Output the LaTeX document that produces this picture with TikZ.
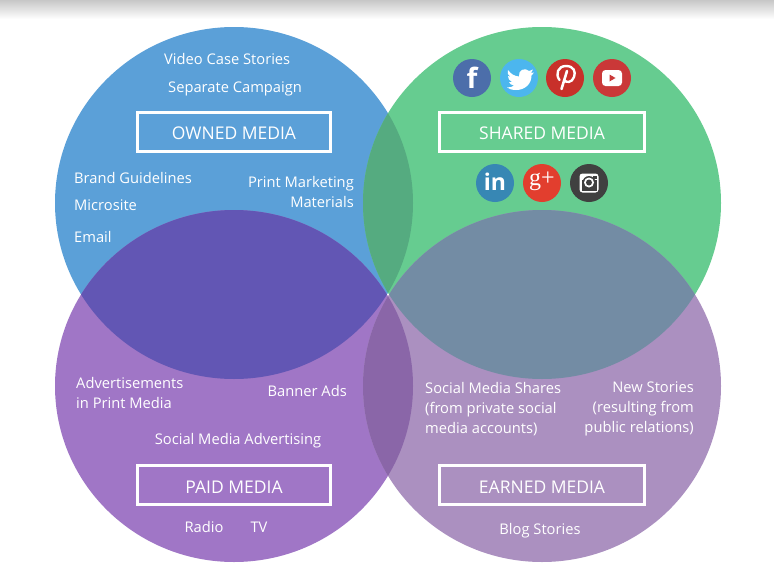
\documentclass[tikz,border=0pt]{standalone}
\usepackage{fontspec}
\setmainfont{Open Sans}
\newfontfamily\serifgl{Liberation Serif}
\newcommand{\boxtext}[1]{\rule{0pt}{16.5pt}#1}
\definecolor{cblue}{HTML}{5BA0D8}
\definecolor{cgreen}{HTML}{66CC90}
\definecolor{cpurple}{HTML}{A076C6}
\definecolor{cmauve}{HTML}{AB90C0}
\definecolor{lenstop}{HTML}{55AB80}
\definecolor{lensleft}{HTML}{6256B4}
\definecolor{lensright}{HTML}{738CA4}
\definecolor{lensbottom}{HTML}{8A66A8}
\definecolor{fbc}{RGB}{76,110,170}
\definecolor{twc}{RGB}{76,182,238}
\definecolor{pinc}{RGB}{200,48,42}
\definecolor{ytc}{RGB}{202,56,56}
\definecolor{lic}{RGB}{55,135,180}
\definecolor{gpc}{RGB}{226,62,46}
\definecolor{igc}{RGB}{64,64,64}
\tikzset{
  x=1pt,y=-1pt,
  mediabox/.style={draw=white,line width=3pt,text=white,minimum height=39pt,inner sep=0pt,font=\fontsize{17.5}{20}\selectfont},
  lbl/.style={text=white,inner sep=0pt,font=\fontsize{14.7}{20}\selectfont},
  icon/.style={circle,minimum size=38pt,inner sep=0pt,text=white},
}
\begin{document}
\begin{tikzpicture}
\useasboundingbox (0,0) rectangle (774,584);
\shade[top color=black!22,bottom color=white] (0,0) rectangle (774,19);
% circles
\fill[cblue]   (234,203) ellipse [x radius=179,y radius=176];
\fill[cgreen]  (542,203) ellipse [x radius=179,y radius=176];
\fill[cpurple] (234,386) ellipse [x radius=179,y radius=176];
\fill[cmauve]  (542,386) ellipse [x radius=179,y radius=176];
% overlaps
\begin{scope}
 \clip (234,203) ellipse [x radius=179,y radius=176];
 \fill[lenstop] (542,203) ellipse [x radius=179,y radius=176];
 \fill[lensleft] (234,386) ellipse [x radius=179,y radius=176];
\end{scope}
\begin{scope}
 \clip (542,386) ellipse [x radius=179,y radius=176];
 \fill[lensright] (542,203) ellipse [x radius=179,y radius=176];
 \fill[lensbottom] (234,386) ellipse [x radius=179,y radius=176];
\end{scope}
% boxes
\node[mediabox,minimum width=193pt] (owned) at (234,131.5) {\boxtext{OWNED MEDIA}};
\node[mediabox,minimum width=205pt] (shared) at (542,131.5) {\boxtext{SHARED MEDIA}};
\node[mediabox,minimum width=193pt] (paid) at (234,485) {\boxtext{PAID MEDIA}};
\node[mediabox,minimum width=205pt] (earned) at (542,485) {\boxtext{EARNED MEDIA}};
% owned labels
\node[lbl,anchor=west] (l1) at (164,59) {Video Case Stories};
\node[lbl,anchor=west] (l2) at (168,88.5) {Separate Campaign};
\node[lbl,anchor=west] (l3) at (74,178) {Brand Guidelines};
\node[lbl,anchor=west] (l4) at (74,205) {Microsite};
\node[lbl,anchor=west] (l5) at (74,237) {Email};
\node[lbl,align=right,anchor=east] (l6) at (354,192) {Print Marketing\\Materials};
% paid labels
\node[lbl,align=left,anchor=west] (l7) at (76,393) {Advertisements\\in Print Media};
\node[lbl,anchor=east] (l8) at (347,391) {Banner Ads};
\node[lbl] (l9) at (238,440.5) {Social Media Advertising};
\node[lbl] (l10) at (204,527) {Radio};
\node[lbl] (l11) at (259,527) {TV};
% earned labels
\node[lbl,align=left,anchor=west] (l12) at (425,409.5) {Social Media Shares\\(from private social\\media accounts)};
\node[lbl,align=right,anchor=east] (l13) at (694,409) {New Stories\\(resulting from\\public relations)};
\node[lbl] (l14) at (540,530.5) {Blog Stories};
% icons
\node[icon,fill=fbc] (fb) at (472,78) {};
\node[text=white,inner sep=0pt,font=\fontsize{28}{28}\bfseries\selectfont] (fbg) at (472,78) {f};
\node[icon,fill=twc] (tw) at (519,78) {};
\fill[white] (508,70) .. controls (511,74) and (514,76) .. (519,76.5)
  .. controls (518,70) and (525,67) .. (529,71) -- (533,69.5) -- (531,73) -- (534,72.5)
  -- (531.5,75.5) .. controls (531.5,84) and (525,90) .. (516,90)
  .. controls (512,90) and (509,89) .. (507,87.5)
  .. controls (510,87.5) and (512,87) .. (514,85.5)
  .. controls (511,85) and (510,84) .. (509,82) -- (512,82)
  .. controls (509,81) and (508,78) .. (508,76) -- (510.5,77)
  .. controls (508,75) and (507,73) .. (508,70) -- cycle;
\node[icon,fill=pinc] (pin) at (565,78) {};
\draw[white,line width=2.4pt,line cap=round] (559.5,80) .. controls (555,74) and (558,66) .. (566,66)
  .. controls (574,66) and (576,72) .. (574,77)
  .. controls (572,83) and (566,83) .. (564,80);
\draw[white,line width=2.6pt,line cap=round] (567,71) -- (561.5,89);
\node[icon,fill=ytc] (yt) at (612,78) {};
\fill[white,rounded corners=3.5pt] (602,70) rectangle (622,86);
\fill[ytc] (609.5,74.5) -- (615.5,78) -- (609.5,81.5) -- cycle;
\node[icon,fill=lic] (li) at (495,183) {};
\node[text=white,inner sep=0pt,font=\fontsize{23}{23}\bfseries\selectfont] (lig) at (495,182) {in};
\node[icon,fill=gpc] (gp) at (542,183) {};
\node[text=white,inner sep=0pt,font=\serifgl\fontsize{24}{24}\selectfont] (gpg) at (542,181.5) {g+};
\node[icon,fill=igc] (ig) at (589,183) {};
\fill[white,rounded corners=3pt] (579.5,173.5) rectangle (598.5,192.5);
\fill[igc] (581.5,179.5) rectangle (596.5,190.5);
\fill[igc] (592.5,175.5) rectangle (596.5,179);
\fill[igc] (589,182.5) circle (6.5);
\fill[white] (589,182.5) circle (5);
\fill[igc] (589,182.5) circle (3);
\end{tikzpicture}
\end{document}
